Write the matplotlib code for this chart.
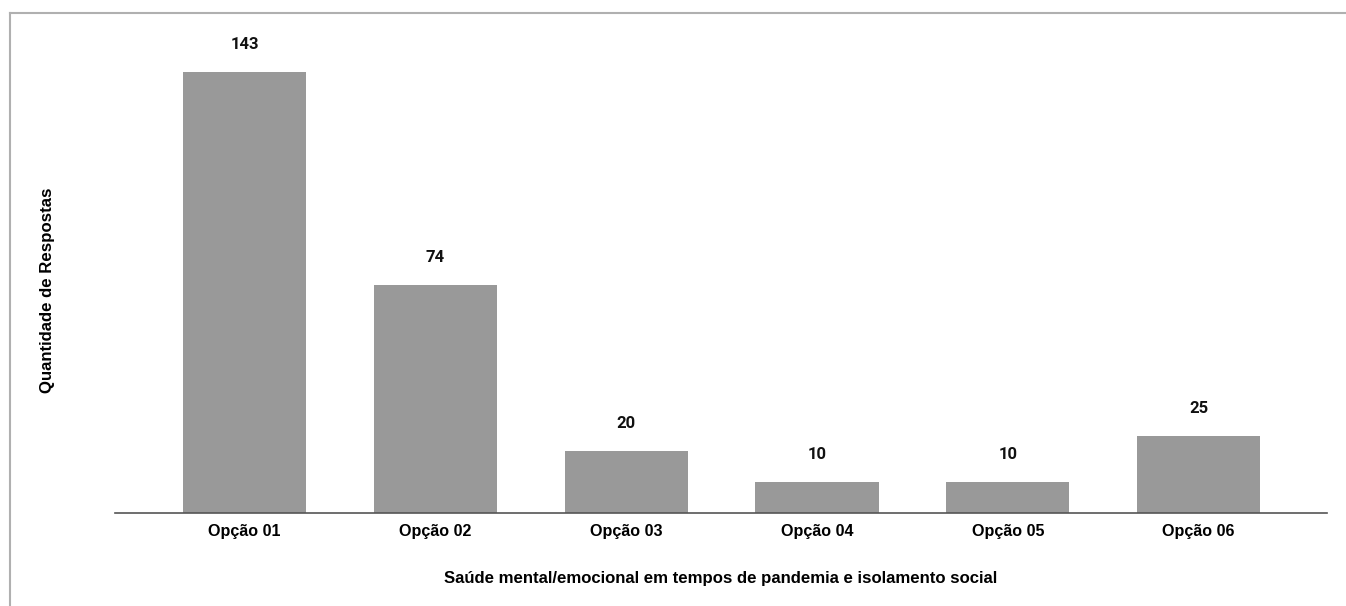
"""Bar chart: saude mental/emocional em tempos de pandemia"""
import matplotlib
matplotlib.use("Agg")
import matplotlib.pyplot as plt
from matplotlib.lines import Line2D

categories = ['Opção 01', 'Opção 02', 'Opção 03', 'Opção 04', 'Opção 05', 'Opção 06']
respostas = [143, 74, 20, 10, 10, 25]

W, H = 1346, 606
fig = plt.figure(figsize=(W / 100, H / 100), dpi=100)
ax = fig.add_axes([115 / W, (H - 513) / H, (1327 - 115) / W, (513 - 20) / H])

x = range(len(categories))
bars = ax.bar(x, respostas, width=0.645, color='#999999', zorder=2)

for b, v in zip(bars, respostas):
    ax.annotate(str(v), (b.get_x() + b.get_width() / 2, v),
                xytext=(0, 20), textcoords='offset points',
                ha='center', va='center', fontsize=12, fontweight='bold',
                family=['Roboto', 'DejaVu Sans'], color='#111111')

ax.set_xlim(-0.679, 5.673)
ax.set_ylim(0, 160)
ax.set_xticks(list(x))
ax.set_xticklabels(categories, fontsize=11.6, fontweight='bold',
                   family=['Liberation Sans', 'DejaVu Sans'])
ax.tick_params(axis='x', length=0, pad=8)
ax.set_yticks([])

for s in ['top', 'right', 'left']:
    ax.spines[s].set_visible(False)
ax.spines['bottom'].set_color('#555555')
ax.spines['bottom'].set_linewidth(1.2)

fig.text(48 / W, 1 - 290 / H, 'Quantidade de Respostas', rotation=90,
         ha='center', va='center', fontsize=12.1, fontweight='bold',
         family=['Liberation Sans', 'DejaVu Sans'])
fig.text(((115 + 1327) / 2) / W, 1 - 578 / H,
         'Saúde mental/emocional em tempos de pandemia e isolamento social',
         ha='center', va='center', fontsize=12.1, fontweight='bold',
         family=['Liberation Sans', 'DejaVu Sans'])

# light frame around the chart (top and left edges visible)
fig.add_artist(Line2D([9.5 / W, 1.0], [1 - 12.5 / H, 1 - 12.5 / H],
                      transform=fig.transFigure, color='#b0b0b0', lw=1.5))
fig.add_artist(Line2D([9.5 / W, 9.5 / W], [0.0, 1 - 12.5 / H],
                      transform=fig.transFigure, color='#b0b0b0', lw=1.5))

fig.savefig('out.png', dpi=100, facecolor='white')
